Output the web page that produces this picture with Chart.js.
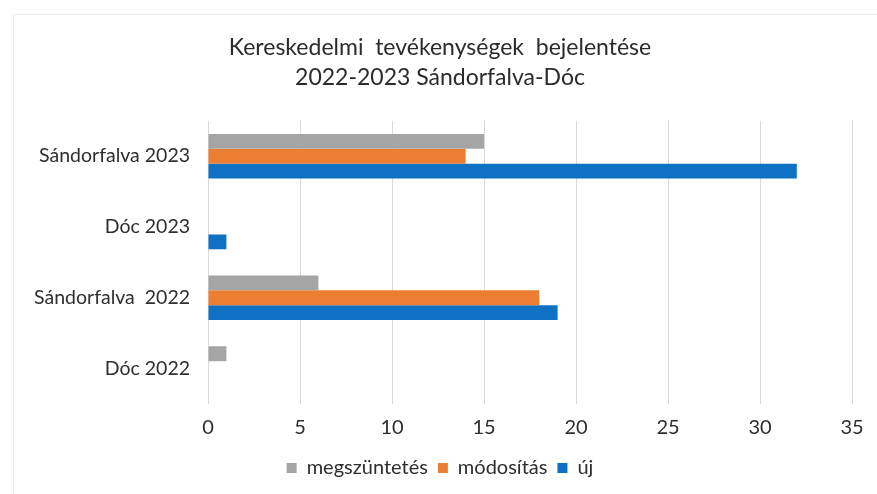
<!DOCTYPE html>
<html>
<head>
<meta charset="utf-8">
<script src="https://cdn.jsdelivr.net/npm/chart.js@4"></script>
<style>
html,body{margin:0;padding:0;background:#fff;}
#wrap{width:877px;height:494px;}
</style>
</head>
<body>
<div id="wrap"><canvas id="c" width="877" height="494"></canvas></div>
<script>
const categories = ['Sándorfalva 2023', 'Dóc 2023', 'Sándorfalva  2022', 'Dóc 2022'];
const megszuntetes = [15, 0, 6, 1];
const modositas = [14, 0, 18, 0];
const uj = [32, 1, 19, 0];
const xTicks = [0, 5, 10, 15, 20, 25, 30, 35];
const titleLines = ['Kereskedelmi  tevékenységek  bejelentése', '2022-2023 Sándorfalva-Dóc'];

const FONT = 'Lato, "Open Sans", sans-serif';
const TXT = '#2e2e2e';

const framePlugin = {
  id: 'frame',
  beforeDraw(chart) {
    const ctx = chart.ctx;
    ctx.save();
    ctx.fillStyle = '#fff';
    ctx.fillRect(0, 0, chart.width, chart.height);
    ctx.strokeStyle = '#ececec';
    ctx.lineWidth = 1;
    ctx.strokeRect(13.5, 14.5, chart.width, chart.height);
    ctx.restore();
  }
};
const shiftPlugin = {
  id: 'shiftBoxes',
  afterLayout(chart) {
    chart.legend.left += 8;
    chart.legend.right += 8;
    chart.titleBlock.left += 8;
    chart.titleBlock.right += 8;
  }
};

new Chart(document.getElementById('c'), {
  type: 'bar',
  data: {
    labels: categories,
    datasets: [
      { label: 'megszüntetés', data: megszuntetes, backgroundColor: '#A5A5A5' },
      { label: 'módosítás', data: modositas, backgroundColor: '#ED7D31' },
      { label: 'új', data: uj, backgroundColor: '#0F71C4' }
    ]
  },
  options: {
    indexAxis: 'y',
    responsive: false,
    animation: false,
    devicePixelRatio: 1,
    categoryPercentage: 0.63,
    barPercentage: 1,
    layout: { padding: { left: 12, right: 25, top: 0, bottom: 6 } },
    plugins: {
      title: {
        display: true,
        text: titleLines,
        color: '#2b2b2b',
        font: { family: FONT, size: 23, weight: 'normal', lineHeight: 1.3 },
        padding: { top: 33, bottom: 28 }
      },
      legend: {
        display: true,
        position: 'bottom',
        labels: {
          color: TXT,
          font: { family: FONT, size: 20 },
          boxWidth: 10,
          boxHeight: 10,
          padding: 10
        }
      },
      tooltip: { enabled: false }
    },
    scales: {
      x: {
        min: 0,
        max: 35,
        afterBuildTicks(scale) { scale.ticks = xTicks.map(v => ({ value: v })); },
        afterFit(scale) { scale.height = 44; },
        grid: { color: '#D9D9D9', lineWidth: 1, drawTicks: false },
        border: { display: false },
        ticks: { color: TXT, font: { family: FONT, size: 20 }, padding: 12 }
      },
      y: {
        afterFit(scale) { scale.width = 196; },
        grid: { display: false, drawTicks: false },
        border: { display: false },
        ticks: { color: TXT, font: { family: FONT, size: 19.5 }, padding: 18 }
      }
    }
  },
  plugins: [framePlugin, shiftPlugin]
});
</script>
</body>
</html>
